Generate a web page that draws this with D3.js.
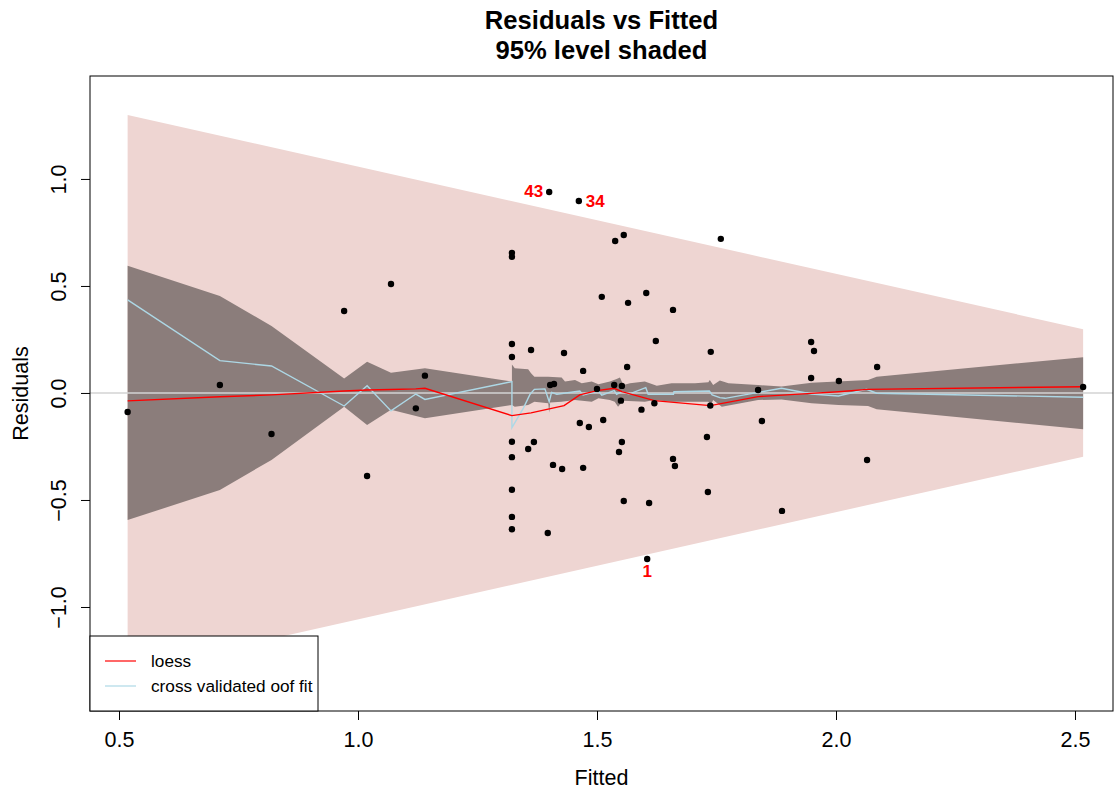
<!DOCTYPE html>
<html>
<head>
<meta charset="utf-8">
<script src="https://cdn.jsdelivr.net/npm/d3@7"></script>
<style>
  html, body { margin: 0; padding: 0; background: #fff; }
  svg { display: block; font-family: "Liberation Sans", Arial, Helvetica, sans-serif; }
</style>
</head>
<body>
<svg id="chart" width="1114" height="791"></svg>
<script>
// Fitted values and residuals of the model, one entry per observation
const fitted = [0.518, 0.711, 0.819, 0.971, 1.019, 1.069, 1.121, 1.140,
  1.322, 1.322, 1.322, 1.322, 1.322, 1.322, 1.322, 1.322, 1.322,
  1.362, 1.356, 1.368, 1.431, 1.402, 1.410, 1.408, 1.427, 1.397,
  1.471, 1.500, 1.464, 1.483, 1.513, 1.565, 1.659, 1.538, 1.556,
  1.510, 1.603, 1.400, 1.462, 1.623, 1.563, 1.536, 1.552, 1.550,
  1.593, 1.620, 1.737, 1.552, 1.546, 1.471, 1.556, 1.609, 1.659,
  1.663, 1.605, 1.759, 1.738, 1.948, 1.954, 2.086, 1.948, 2.006,
  1.837, 1.845, 1.730, 2.065, 1.732, 1.887, 2.517];
const residuals = [-0.089, 0.037, -0.192, 0.383, -0.388, 0.509, -0.072, 0.081,
  0.654, 0.636, 0.229, 0.168, -0.228, -0.300, -0.452, -0.579, -0.637,
  0.201, -0.262, -0.229, 0.187, 0.037, 0.042, -0.336, -0.355, -0.654,
  0.103, 0.019, -0.140, -0.159, -0.126, 0.421, 0.388, 0.710, 0.738,
  0.449, 0.467, 0.939, 0.897, 0.243, 0.121, 0.037, 0.033, -0.036,
  -0.078, -0.048, -0.059, -0.229, -0.276, -0.350, -0.505, -0.514, -0.308,
  -0.341, -0.776, 0.720, 0.192, 0.238, 0.196, 0.121, 0.070, 0.056,
  0.014, -0.131, -0.206, -0.313, -0.463, -0.551, 0.028];

// Flagged observations (id text and index into the arrays above)
const flaggedIds = ["43", "34", "1"];
const flaggedIndex = [37, 38, 54];

// 95% prediction band (linear in fitted)
const piX = [0.518, 2.517];
const piUpper = [1.299, 0.298];
const piLower = [-1.299, -0.298];

// Band of the cross validated fit
const bandUpX = [0.518, 0.711, 0.819, 0.971, 1.019, 1.069, 1.140, 1.322, 1.322, 1.328,
  1.356, 1.362, 1.369, 1.398, 1.426, 1.433, 1.454, 1.468, 1.489, 1.503, 1.527,
  1.541, 1.548, 1.555, 1.569, 1.600, 1.625, 1.656, 1.705, 1.733, 1.736, 1.743,
  1.757, 1.775, 1.837, 1.886, 1.949, 2.067, 2.085, 2.517];
const bandUp = [0.594, 0.453, 0.313, 0.068, 0.146, 0.095, 0.115, 0.053, 0.133, 0.115,
  0.111, 0.092, 0.076, 0.076, 0.072, 0.053, 0.061, 0.045, 0.053, 0.041, 0.053,
  0.065, 0.072, 0.037, 0.045, 0.053, 0.034, 0.045, 0.045, 0.050, 0.061, 0.037,
  0.058, 0.045, 0.037, 0.030, 0.048, 0.061, 0.076, 0.167];
const bandLoX = [0.518, 0.711, 0.819, 0.971, 1.019, 1.069, 1.140, 1.322, 1.328, 1.356,
  1.369, 1.398, 1.400, 1.402, 1.426, 1.454, 1.489, 1.503, 1.527, 1.537, 1.544,
  1.555, 1.600, 1.620, 1.656, 1.733, 1.738, 1.743, 1.761, 1.837, 1.886, 1.949,
  2.005, 2.067, 2.085, 2.517];
const bandLo = [-0.594, -0.453, -0.313, -0.064, -0.150, -0.079, -0.118, -0.056, -0.064, -0.056,
  -0.041, -0.048, -0.093, -0.045, -0.041, -0.033, -0.041, -0.025, -0.033, -0.041, -0.064,
  -0.036, -0.041, -0.033, -0.041, -0.041, -0.056, -0.033, -0.064, -0.033, -0.030, -0.048,
  -0.056, -0.061, -0.076, -0.170];

// Loess smooth of the residuals
const loessX = [0.518, 0.711, 0.819, 0.971, 1.019, 1.069, 1.121, 1.140, 1.322, 1.362,
  1.431, 1.464, 1.500, 1.536, 1.552, 1.620, 1.737, 1.837, 1.948, 2.006, 2.065, 2.517];
const loessY = [-0.037, -0.018, -0.009, 0.009, 0.014, 0.016, 0.019, 0.022, -0.106, -0.093,
  -0.059, -0.009, 0.011, 0.022, 0.006, -0.036, -0.059, -0.017, -0.002, 0.006, 0.017, 0.029];

// Cross validated out-of-fold fit
const cvX = [0.518, 0.711, 0.819, 0.971, 1.019, 1.069, 1.121, 1.140, 1.322, 1.322,
  1.346, 1.360, 1.369, 1.391, 1.400, 1.405, 1.416, 1.464, 1.471, 1.503, 1.510,
  1.536, 1.541, 1.552, 1.567, 1.602, 1.607, 1.660, 1.661, 1.735, 1.741, 1.757,
  1.768, 1.886, 1.949, 2.005, 2.064, 2.085, 2.517];
const cvY = [0.435, 0.151, 0.126, -0.061, 0.034, -0.084, -0.005, -0.030, 0.053, -0.162,
  -0.071, -0.006, 0.017, 0.019, -0.041, 0.003, -0.006, 0.009, -0.009, 0.009, -0.010,
  0.011, -0.006, 0.006, -0.005, 0.025, -0.006, -0.006, 0.006, 0.009, -0.009, -0.022,
  -0.025, 0.022, -0.005, -0.014, 0.017, -0.001, -0.020];

const xTicks = [0.5, 1.0, 1.5, 2.0, 2.5];
const yTicks = [-1.0, -0.5, 0.0, 0.5, 1.0];

const legendLabels = ["loess", "cross validated oof fit"];

// ---- layout ----
const svg = d3.select("#chart");
const plot = { left: 90, top: 76, right: 1113, bottom: 711 };

const x = d3.scaleLinear().domain([0.4393, 2.5795]).range([plot.left, plot.right]);
const y = d3.scaleLinear().domain([-1.486, 1.481]).range([plot.bottom, plot.top]);

const clip = svg.append("clipPath").attr("id", "plotclip")
  .append("rect")
  .attr("x", plot.left).attr("y", plot.top)
  .attr("width", plot.right - plot.left).attr("height", plot.bottom - plot.top);

const g = svg.append("g").attr("clip-path", "url(#plotclip)");

// prediction band
const piArea = d3.area()
  .x(d => x(d.x)).y0(d => y(d.lo)).y1(d => y(d.hi));
g.append("path")
  .datum(piX.map((v, i) => ({ x: v, lo: piLower[i], hi: piUpper[i] })))
  .attr("d", piArea)
  .attr("fill", "rgb(238,213,210)");

// cross validated band: upper edge left to right, lower edge right to left
const bandPts = bandUpX.map((v, i) => [x(v), y(bandUp[i])])
  .concat(bandLoX.map((v, i) => [x(v), y(bandLo[i])]).reverse());
g.append("path")
  .attr("d", "M" + bandPts.map(p => p.join(",")).join("L") + "Z")
  .attr("fill", "rgb(139,125,123)");

// zero reference line
g.append("line")
  .attr("x1", plot.left).attr("x2", plot.right)
  .attr("y1", y(0)).attr("y2", y(0))
  .attr("stroke", "#d3d3d3").attr("stroke-width", 1.5);

const line = d3.line().x(d => x(d[0])).y(d => y(d[1]));

g.append("path")
  .attr("d", line(cvX.map((v, i) => [v, cvY[i]])))
  .attr("fill", "none").attr("stroke", "rgb(173,216,230)").attr("stroke-width", 1.4);

g.append("path")
  .attr("d", line(loessX.map((v, i) => [v, loessY[i]])))
  .attr("fill", "none").attr("stroke", "#ff0000").attr("stroke-width", 1.4);

// observations
g.selectAll("circle.obs")
  .data(fitted.map((v, i) => [v, residuals[i]]))
  .join("circle")
  .attr("class", "obs")
  .attr("cx", d => x(d[0])).attr("cy", d => y(d[1]))
  .attr("r", 3.2).attr("fill", "#000");

// flagged observation ids
const labelPlacement = {
  left:  { dx: -6, dy: 5, anchor: "end" },
  right: { dx: 7, dy: 6, anchor: "start" },
  below: { dx: 0, dy: 18, anchor: "middle" }
};
const labelSide = ["left", "right", "below"];
flaggedIds.forEach((id, k) => {
  const i = flaggedIndex[k];
  const p = labelPlacement[labelSide[k]];
  svg.append("text")
    .attr("x", x(fitted[i]) + p.dx)
    .attr("y", y(residuals[i]) + p.dy)
    .attr("text-anchor", p.anchor)
    .attr("font-size", "17px").attr("font-weight", "bold")
    .attr("fill", "#ff0000")
    .text(id);
});

// axes
const xAxis = svg.append("g")
  .attr("transform", `translate(0,${plot.bottom})`)
  .call(d3.axisBottom(x).tickValues(xTicks).tickFormat(d3.format(".1f")).tickSize(9));
xAxis.select(".domain").remove();
xAxis.selectAll(".tick line").attr("stroke", "#000");
xAxis.selectAll(".tick text")
  .attr("y", 36).attr("dy", 0)
  .attr("font-size", "21.5px").attr("font-family", "Liberation Sans, Arial, sans-serif")
  .attr("fill", "#000");

const yAxis = svg.append("g")
  .attr("transform", `translate(${plot.left},0)`)
  .call(d3.axisLeft(y).tickValues(yTicks).tickFormat(d3.format(".1f")).tickSize(9));
yAxis.select(".domain").remove();
yAxis.selectAll(".tick line").attr("stroke", "#000");
yAxis.selectAll(".tick text")
  .attr("x", 0).attr("dy", 0)
  .attr("text-anchor", "middle")
  .attr("transform", "translate(-24,0) rotate(-90)")
  .attr("font-size", "21.5px").attr("font-family", "Liberation Sans, Arial, sans-serif")
  .attr("fill", "#000");

// plot frame
svg.append("rect")
  .attr("x", plot.left).attr("y", plot.top)
  .attr("width", plot.right - plot.left).attr("height", plot.bottom - plot.top)
  .attr("fill", "none").attr("stroke", "#000").attr("stroke-width", 1);

// titles
const cx = (plot.left + plot.right) / 2;
svg.append("text").attr("x", cx).attr("y", 29)
  .attr("text-anchor", "middle").attr("font-size", "25.6px").attr("font-weight", "bold")
  .text("Residuals vs Fitted");
svg.append("text").attr("x", cx).attr("y", 59)
  .attr("text-anchor", "middle").attr("font-size", "25.6px").attr("font-weight", "bold")
  .text("95% level shaded");

svg.append("text").attr("x", cx).attr("y", 785)
  .attr("text-anchor", "middle").attr("font-size", "21.5px")
  .text("Fitted");
svg.append("text")
  .attr("transform", `translate(28,${(plot.top + plot.bottom) / 2}) rotate(-90)`)
  .attr("text-anchor", "middle").attr("font-size", "21.5px")
  .text("Residuals");

// legend
const legend = svg.append("g");
legend.append("rect")
  .attr("x", plot.left).attr("y", 636)
  .attr("width", 228).attr("height", plot.bottom - 636)
  .attr("fill", "#fff").attr("stroke", "#000").attr("stroke-width", 1);
const legendColors = ["#ff0000", "rgb(173,216,230)"];
legendLabels.forEach((lab, i) => {
  const ly = 661 + i * 25;
  legend.append("line")
    .attr("x1", 105).attr("x2", 136).attr("y1", ly).attr("y2", ly)
    .attr("stroke", legendColors[i]).attr("stroke-width", 1.2);
  legend.append("text")
    .attr("x", 151).attr("y", ly + 6)
    .attr("font-size", "17.2px")
    .text(lab);
});
</script>
</body>
</html>
